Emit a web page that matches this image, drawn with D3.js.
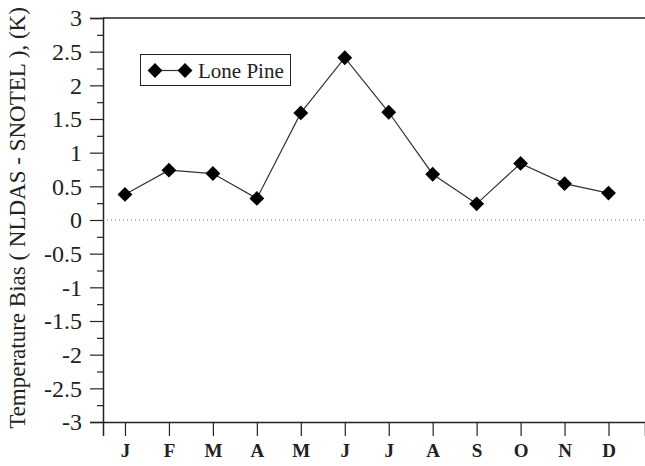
<!DOCTYPE html>
<html>
<head>
<meta charset="utf-8">
<script src="https://cdn.jsdelivr.net/npm/d3@7"></script>
<style>
  body { margin: 0; background: #fff; }
  svg text { font-family: "Liberation Serif", "Times New Roman", serif; }
</style>
</head>
<body>
<svg id="chart" width="645" height="466"></svg>
<script>
// monthly bias values
var months = ["J", "F", "M", "A", "M", "J", "J", "A", "S", "O", "N", "D"];
var bias = [0.38, 0.74, 0.69, 0.32, 1.59, 2.41, 1.60, 0.68, 0.24, 0.84, 0.54, 0.40];
var yTicks = [-3, -2.5, -2, -1.5, -1, -0.5, 0, 0.5, 1, 1.5, 2, 2.5, 3];
var seriesName = "Lone Pine";

var svg = d3.select("#chart");
var margin = {left: 103, top: 18, right: 0, bottom: 44};
var width = 645 - margin.left;
var height = 466 - margin.top - margin.bottom;

var g = svg.append("g")
    .attr("transform", "translate(" + margin.left + "," + margin.top + ")");

var x = d3.scaleLinear()
    .domain([0.5, 12.83])
    .range([0, width]);

var y = d3.scaleLinear()
    .domain([-3, 3])
    .range([height, 0]);

var data = bias.map(function(v, i) { return {m: i + 1, label: months[i], v: v}; });

// zero line
g.append("line")
    .attr("x1", 0).attr("x2", width)
    .attr("y1", y(0)).attr("y2", y(0))
    .attr("stroke", "#777")
    .attr("stroke-width", 1)
    .attr("stroke-dasharray", "1,3");

// y axis, minor ticks first
var minor = d3.range(-2.75, 3, 0.5);
g.append("g")
    .call(d3.axisLeft(y).tickValues(minor).tickSize(6).tickFormat(""))
    .call(function(s) { s.select(".domain").remove(); })
    .selectAll("line").attr("stroke", "#222").attr("stroke-width", 1.2);

var yAxis = g.append("g")
    .call(d3.axisLeft(y).tickValues(yTicks).tickSize(13).tickPadding(8)
      .tickFormat(function(d) { return String(d); }));
yAxis.select(".domain").attr("stroke", "#222").attr("stroke-width", 1.5);
yAxis.selectAll("line").attr("stroke", "#222").attr("stroke-width", 1.2);
yAxis.selectAll("text")
    .style("font-size", "24px")
    .style("font-family", "'Liberation Serif', serif")
    .attr("fill", "#222");

// bottom axis
var xAxis = g.append("g")
    .attr("transform", "translate(0," + height + ")")
    .call(d3.axisBottom(x).tickValues(d3.range(1, 13)).tickSize(14).tickPadding(8)
      .tickFormat(function(d) { return months[d - 1]; }));
xAxis.select(".domain").attr("stroke", "#222").attr("stroke-width", 1.5);
xAxis.selectAll("line").attr("stroke", "#222").attr("stroke-width", 1.2);
xAxis.selectAll("text")
    .style("font-size", "19px")
    .style("font-weight", "bold")
    .style("font-family", "'Liberation Serif', serif")
    .attr("fill", "#222");

// top frame line
g.append("line")
    .attr("x1", 0).attr("x2", width)
    .attr("y1", 0).attr("y2", 0)
    .attr("stroke", "#222").attr("stroke-width", 1.5);

// axis title
svg.append("text")
    .attr("transform", "translate(25," + (margin.top + height / 2 - 2) + ") rotate(-90)")
    .attr("text-anchor", "middle")
    .style("font-size", "23px")
    .attr("fill", "#222")
    .text("Temperature Bias ( NLDAS - SNOTEL ), (K)");

// series line
var line = d3.line()
    .x(function(d) { return x(d.m); })
    .y(function(d) { return y(d.v); });

g.append("path")
    .datum(data)
    .attr("d", line)
    .attr("fill", "none")
    .attr("stroke", "#333")
    .attr("stroke-width", 1.2);

var diamond = d3.symbol().type(d3.symbolSquare).size(110);

g.selectAll(".pt")
    .data(data)
  .enter().append("path")
    .attr("class", "pt")
    .attr("d", diamond)
    .attr("transform", function(d) {
      return "translate(" + x(d.m) + "," + y(d.v) + ") rotate(45)";
    })
    .attr("fill", "#000");

// legend
var legend = svg.append("g").attr("transform", "translate(140,54)");
legend.append("rect")
    .attr("x", 0.5).attr("y", 0.5)
    .attr("width", 150).attr("height", 31)
    .attr("fill", "#fff").attr("stroke", "#222").attr("stroke-width", 1);
legend.append("line")
    .attr("x1", 15).attr("x2", 45).attr("y1", 16.5).attr("y2", 16.5)
    .attr("stroke", "#333").attr("stroke-width", 1.2);
legend.selectAll(".lm")
    .data([15, 45])
  .enter().append("path")
    .attr("class", "lm")
    .attr("d", diamond)
    .attr("transform", function(d) { return "translate(" + d + ",16.5) rotate(45)"; })
    .attr("fill", "#000");
legend.append("text")
    .attr("x", 58).attr("y", 23.5)
    .style("font-size", "21px")
    .attr("fill", "#222")
    .text(seriesName);
</script>
</body>
</html>
